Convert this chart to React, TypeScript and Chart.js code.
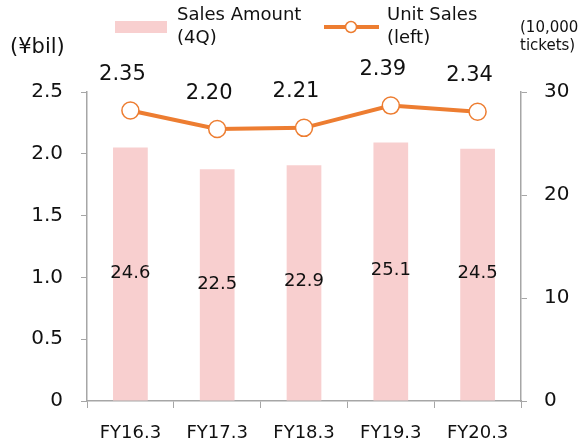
import React, { useEffect, useRef } from "react";
import { Chart, registerables } from "chart.js";

Chart.register(...registerables);

const categories = ["FY16.3", "FY17.3", "FY18.3", "FY19.3", "FY20.3"];
const barValues = [24.6, 22.5, 22.9, 25.1, 24.5];
const lineValues = [2.35, 2.2, 2.21, 2.39, 2.34];
const leftTicks = [0, 0.5, 1.0, 1.5, 2.0, 2.5];
const rightTicks = [0, 10, 20, 30];

const FONT = "'DejaVu Sans', Verdana, sans-serif";
const PINK = "#F8CFCF";
const ORANGE = "#ED7D31";
const AXIS = "#A6A6A6";
const TEXT = "#111111";

const overlay = {
  id: "overlay",
  afterDatasetsDraw(chart: any) {
    const ctx = chart.ctx;
    ctx.save();
    ctx.fillStyle = TEXT;
    ctx.textAlign = "center";
    ctx.textBaseline = "middle";
    // bar labels
    const barMeta = chart.getDatasetMeta(0);
    ctx.font = `18px ${FONT}`;
    barMeta.data.forEach((el: any, i: number) => {
      const mid = (el.y + el.base) / 2;
      ctx.fillText(barValues[i].toFixed(1), el.x, mid - 1);
    });
    // line labels
    const lineMeta = chart.getDatasetMeta(1);
    ctx.font = `21px ${FONT}`;
    lineMeta.data.forEach((el: any, i: number) => {
      ctx.fillText(lineValues[i].toFixed(2), el.x - 8, el.y - 36);
    });
    // legend
    ctx.fillStyle = PINK;
    ctx.fillRect(115, 21, 52, 12);
    ctx.fillStyle = TEXT;
    ctx.textAlign = "left";
    ctx.font = `18px ${FONT}`;
    ctx.fillText("Sales Amount", 177, 15);
    ctx.fillText("(4Q)", 177, 38);
    ctx.strokeStyle = ORANGE;
    ctx.lineWidth = 4;
    ctx.beginPath();
    ctx.moveTo(324, 27);
    ctx.lineTo(379, 27);
    ctx.stroke();
    ctx.beginPath();
    ctx.arc(351, 27, 5.5, 0, Math.PI * 2);
    ctx.fillStyle = "#fff";
    ctx.fill();
    ctx.lineWidth = 1.5;
    ctx.stroke();
    ctx.fillStyle = TEXT;
    ctx.fillText("Unit Sales", 387, 15);
    ctx.fillText("(left)", 387, 38);
    // axis titles
    ctx.font = `21px ${FONT}`;
    ctx.fillText("(¥bil)", 10, 48);
    ctx.font = `15px ${FONT}`;
    ctx.fillText("(10,000", 520, 28);
    ctx.fillText("tickets)", 520, 46);
    ctx.restore();
  },
};

export default function App() {
  const ref = useRef<HTMLCanvasElement>(null);
  useEffect(() => {
    if (!ref.current) return;
    const chart = new Chart(ref.current, {
      type: "bar",
      data: {
        labels: categories,
        datasets: [
          {
            type: "bar",
            label: "Sales Amount (4Q)",
            data: barValues,
            yAxisID: "y1",
            backgroundColor: PINK,
            barPercentage: 0.4,
            categoryPercentage: 1,
            order: 2,
          },
          {
            type: "line",
            label: "Unit Sales (left)",
            data: lineValues,
            yAxisID: "y",
            borderColor: ORANGE,
            borderWidth: 4,
            pointRadius: 8.5,
            pointBorderWidth: 1.5,
            pointBackgroundColor: "#fff",
            pointBorderColor: ORANGE,
            tension: 0,
            order: 1,
          },
        ] as any,
      },
      options: {
        responsive: false,
        animation: false,
        layout: { padding: { top: 92, left: 0, right: 0, bottom: 0 } },
        plugins: { legend: { display: false }, tooltip: { enabled: false } },
        scales: {
          x: {
            offset: true,
            grid: {
              offset: true,
              drawOnChartArea: false,
              drawTicks: true,
              tickLength: 7,
              color: AXIS,
            },
            border: { display: true, color: AXIS, width: 1.5 },
            ticks: { color: TEXT, font: { family: FONT, size: 18 }, padding: 15 },
            afterFit: (s: any) => {
              s.height = 44;
            },
          },
          y: {
            position: "left",
            min: 0,
            max: 2.5,
            afterBuildTicks: (s: any) => {
              s.ticks = leftTicks.map((v) => ({ value: v }));
            },
            grid: { drawOnChartArea: false, tickLength: 6, color: AXIS },
            border: { display: true, color: AXIS, width: 1.5 },
            ticks: {
              color: TEXT,
              font: { family: FONT, size: 20 },
              padding: 18,
              callback: (v: any) => (v === 0 ? "0" : Number(v).toFixed(1)),
            },
            afterFit: (s: any) => {
              s.width = 87;
            },
          },
          y1: {
            position: "right",
            min: 0,
            max: 30,
            afterBuildTicks: (s: any) => {
              s.ticks = rightTicks.map((v) => ({ value: v }));
            },
            grid: { drawOnChartArea: false, tickLength: 6, color: AXIS },
            border: { display: true, color: AXIS, width: 1.5 },
            ticks: {
              color: TEXT,
              font: { family: FONT, size: 20 },
              padding: 17,
              callback: (v: any) => String(v),
            },
            afterFit: (s: any) => {
              s.width = 63;
            },
          },
        },
      } as any,
      plugins: [overlay],
    });
    return () => chart.destroy();
  }, []);
  return (
    <div style={{ position: "fixed", left: 0, top: 0, width: 584, height: 445, background: "#fff" }}>
      <canvas ref={ref} width={584} height={445} />
    </div>
  );
}
